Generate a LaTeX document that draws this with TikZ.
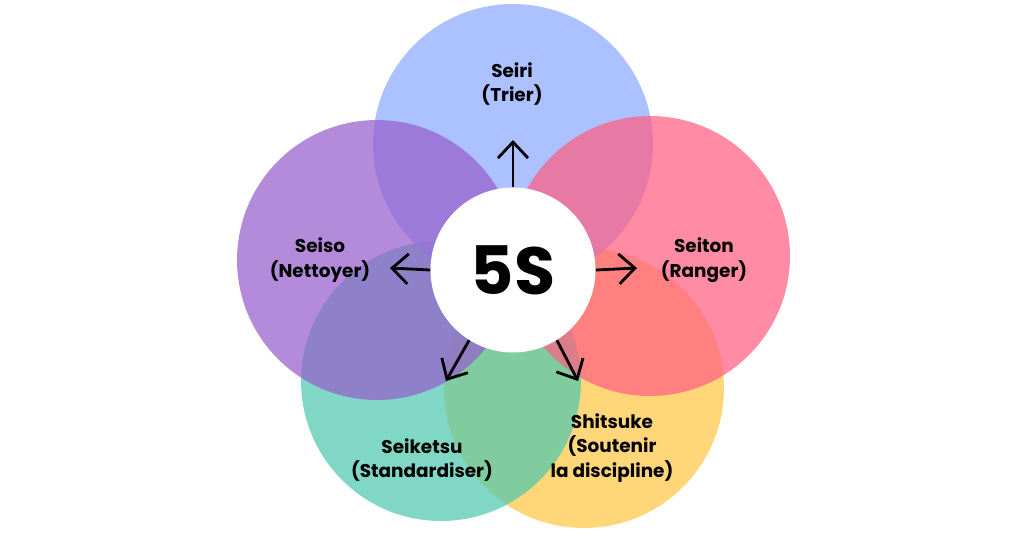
\documentclass[tikz,border=0pt]{standalone}
\usepackage{fontspec}
\setmainfont{Poppins}
\usetikzlibrary{arrows.meta}
\tikzset{
  petal/.style={circle,minimum size=5.6cm,inner sep=0pt,opacity=.72},
  lbl/.style={align=center,font=\fontsize{10.5}{14}\selectfont\bfseries},
  outarrow/.style={-{Straight Barb[length=3.2mm,width=6mm]},line width=1.6pt},
}
\begin{document}
\begin{tikzpicture}[x=0.02cm,y=-0.02cm]
   \useasboundingbox[fill=white] (0,0) rectangle (1024,535);
   % petals
   \node[petal,fill={rgb,255:red,255;green,200;blue,70}] (shitsuke) at (584,388) {};
   \node[petal,fill={rgb,255:red,80;green,200;blue,175}] (seiketsu) at (441,381) {};
   \node[petal,fill={rgb,255:red,140;green,170;blue,255}] (seiri) at (513,144) {};
   \node[petal,fill={rgb,255:red,150;green,95;blue,205}] (seiso) at (377,260) {};
   \node[petal,fill={rgb,255:red,255;green,95;blue,130}] (seiton) at (650,256) {};
   % centre
   \node[circle,fill=white,minimum size=3.3cm,inner sep=0pt,
     font=\fontsize{38}{40}\selectfont\bfseries] (c) at (513,270) {5S};
   % labels
   \node[lbl] at (512,84) {Seiri\\(Trier)};
   \node[lbl] at (704,260) {Seiton\\(Ranger)};
   \node[lbl] at (320,260) {Seiso\\(Nettoyer)};
   \node[lbl] at (422,460) {Seiketsu\\(Standardiser)};
   \node[lbl] at (612,448) {Shitsuke\\(Soutenir\\la discipline)};
   % arrows
   \coordinate (aN) at (513,140);
   \coordinate (aE) at (637,268);
   \coordinate (aW) at (390,268);
   \coordinate (aSW) at (446,381);
   \coordinate (aSE) at (578,381);
   \draw[outarrow] (c.north) -- (aN);
   \draw[outarrow] (c.east) -- (aE);
   \draw[outarrow] (c.west) -- (aW);
   \draw[outarrow] (c.-122) -- (aSW);
   \draw[outarrow] (c.-58) -- (aSE);
\end{tikzpicture}
\end{document}
